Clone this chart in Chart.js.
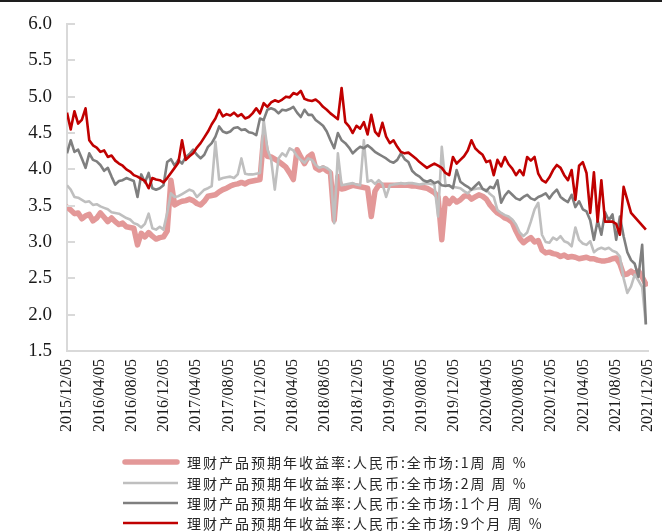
<!DOCTYPE html>
<html>
<head>
<meta charset="utf-8">
<script src="https://cdn.jsdelivr.net/npm/chart.js@4.4.1/dist/chart.umd.min.js"></script>
<style>
  html, body { margin: 0; padding: 0; background: #fff; }
  #frame { width: 662px; height: 532px; box-sizing: border-box; border-top: 2px solid #1e1e1e; }
  canvas { display: block; }
</style>
</head>
<body>
<div id="frame"><canvas id="c" width="662" height="530"></canvas></div>
<script>
// Weekly wealth-product expected annual yields (%), sampled every two weeks from 2015/12/05
const startDate = '2015/12/05';
const stepDays = 14;

const seriesNames = [
  '理财产品预期年收益率:人民币:全市场:1周 周 %',
  '理财产品预期年收益率:人民币:全市场:2周 周 %',
  '理财产品预期年收益率:人民币:全市场:1个月 周 %',
  '理财产品预期年收益率:人民币:全市场:9个月 周 %'
];

const tickLabels = [
  '2015/12/05', '2016/04/05', '2016/08/05', '2016/12/05', '2017/04/05',
  '2017/08/05', '2017/12/05', '2018/04/05', '2018/08/05', '2018/12/05',
  '2019/04/05', '2019/08/05', '2019/12/05', '2020/04/05', '2020/08/05',
  '2020/12/05', '2021/04/05', '2021/08/05', '2021/12/05'
];

const yield1W = [
  3.48, 3.44, 3.39, 3.40, 3.32, 3.36, 3.38, 3.29, 3.33, 3.40,
  3.34, 3.28, 3.33, 3.28, 3.24, 3.26, 3.21, 3.20, 3.19, 2.96,
  3.12, 3.07, 3.13, 3.08, 3.04, 3.06, 3.07, 3.15, 3.85, 3.51,
  3.54, 3.56, 3.57, 3.59, 3.57, 3.53, 3.51, 3.56, 3.63, 3.64,
  3.65, 3.69, 3.72, 3.74, 3.77, 3.79, 3.80, 3.82, 3.80, 3.83,
  3.84, 3.85, 3.86, 4.45, 4.18, 4.17, 4.14, 4.11, 4.07, 4.03,
  3.95, 3.86, 4.27, 4.17, 4.08, 4.17, 4.21, 4.02, 3.99, 4.02,
  3.98, 3.95, 3.30, 3.90, 3.73, 3.74, 3.76, 3.78, 3.77, 3.76,
  3.75, 3.74, 3.35, 3.70, 3.78, 3.78, 3.78, 3.78, 3.78, 3.78,
  3.78, 3.78, 3.78, 3.77, 3.77, 3.76, 3.75, 3.74, 3.71, 3.68,
  3.62, 3.03, 3.60, 3.53, 3.60, 3.55, 3.58, 3.63, 3.64, 3.59,
  3.62, 3.65, 3.63, 3.59, 3.51, 3.45, 3.40, 3.37, 3.33, 3.31,
  3.27, 3.15, 3.05, 2.99, 3.03, 3.06, 3.00, 3.02, 2.89, 2.85,
  2.86, 2.84, 2.83, 2.80, 2.82, 2.79, 2.80, 2.79, 2.77, 2.78,
  2.79, 2.77, 2.77, 2.75, 2.74, 2.74, 2.75, 2.77, 2.78, 2.70,
  2.55, 2.56, 2.60, 2.56, 2.60, 2.52, 2.42
];

const yield2W = [
  3.78, 3.72, 3.62, 3.61, 3.58, 3.55, 3.56, 3.51, 3.52, 3.49,
  3.47, 3.45, 3.41, 3.40, 3.39, 3.36, 3.33, 3.31, 3.26, 3.24,
  3.20, 3.25, 3.39, 3.19, 3.17, 3.21, 3.17, 3.40, 3.67, 3.62,
  3.63, 3.66, 3.69, 3.72, 3.70, 3.62, 3.67, 3.72, 3.74, 3.77,
  4.38, 3.86, 3.88, 3.89, 3.90, 3.88, 3.93, 4.15, 3.94, 3.93,
  3.93, 3.94, 3.95, 4.68, 4.28, 4.14, 3.72, 4.15, 4.22, 4.18,
  4.29, 4.26, 4.18, 4.13, 4.09, 4.15, 4.13, 4.06, 4.02, 4.04,
  4.02, 3.98, 3.26, 4.22, 3.78, 3.79, 3.80, 3.81, 3.79, 3.78,
  4.40, 3.83, 3.85, 3.80, 3.85, 3.80, 3.62, 3.78, 3.79, 3.80,
  3.81, 3.80, 3.81, 3.81, 3.80, 3.79, 3.80, 3.81, 3.80, 3.79,
  3.35, 4.31, 3.79, 3.77, 3.76, 3.75, 3.74, 3.70, 3.67, 3.72,
  3.73, 3.74, 3.73, 3.72, 3.66, 3.62, 3.44, 3.40, 3.37, 3.35,
  3.31, 3.24, 3.13, 3.08, 3.13, 3.28, 3.45, 3.54, 3.10, 3.00,
  2.99, 3.06, 3.03, 3.08, 3.01, 2.99, 2.94, 3.20, 3.03, 2.98,
  2.96, 3.01, 2.86, 2.90, 2.92, 2.90, 2.92, 2.88, 2.86, 2.80,
  2.50, 2.30, 2.39, 2.55, 2.47, 2.38, 1.86
];

const yield1M = [
  4.22, 4.40, 4.24, 4.27, 4.15, 4.02, 4.22, 4.13, 4.11, 4.06,
  3.98, 4.02, 3.90, 3.79, 3.84, 3.85, 3.88, 3.86, 3.84, 3.62,
  3.93, 3.82, 3.95, 3.74, 3.72, 3.74, 3.78, 4.10, 4.14, 4.05,
  4.13, 4.08, 4.17, 4.21, 4.27, 4.20, 4.15, 4.20, 4.31, 4.36,
  4.45, 4.59, 4.52, 4.50, 4.52, 4.57, 4.58, 4.54, 4.55, 4.51,
  4.50, 4.47, 4.70, 4.68, 4.82, 4.84, 4.82, 4.77, 4.82, 4.81,
  4.83, 4.86, 4.78, 4.72, 4.82, 4.75, 4.75, 4.68, 4.64, 4.60,
  4.52, 4.40, 4.29, 4.50, 4.40, 4.36, 4.30, 4.22, 4.27, 4.31,
  4.29, 4.33, 4.29, 4.24, 4.21, 4.18, 4.15, 4.11, 4.09, 4.13,
  4.22, 4.14, 4.10, 3.98, 3.93, 3.90, 3.85, 3.83, 3.85, 3.81,
  3.83, 3.78, 3.77, 3.78, 3.74, 3.99, 3.83, 3.79, 3.76, 3.72,
  3.77, 3.82, 3.73, 3.70, 3.76, 3.74, 3.85, 3.54, 3.64, 3.70,
  3.65, 3.60, 3.58, 3.62, 3.65, 3.60, 3.58, 3.62, 3.64, 3.67,
  3.60, 3.67, 3.72, 3.62, 3.58, 3.55, 3.65, 3.48, 3.56, 3.45,
  3.42, 3.30, 3.03, 3.30, 3.10, 3.41, 3.30, 3.38, 3.03, 3.35,
  3.08, 2.86, 2.75, 2.70, 2.52, 2.96, 1.87
];

const yield9M = [
  4.78, 4.55, 4.80, 4.63, 4.68, 4.84, 4.40, 4.33, 4.30, 4.24,
  4.26, 4.17, 4.19, 4.12, 4.08, 4.05, 4.00, 3.97, 3.92, 3.90,
  3.87, 3.84, 3.74, 3.88, 3.86, 3.85, 3.82, 3.88, 3.95, 4.02,
  4.09, 4.40, 4.13, 4.18, 4.22, 4.30, 4.36, 4.44, 4.52, 4.62,
  4.70, 4.82, 4.73, 4.76, 4.74, 4.78, 4.73, 4.76, 4.70, 4.72,
  4.77, 4.84, 4.77, 4.91, 4.86, 4.92, 4.95, 4.93, 4.96, 5.00,
  4.99, 5.05, 5.03, 5.08, 4.97, 4.95, 4.94, 4.96, 4.92, 4.86,
  4.82, 4.77, 4.73, 4.69, 5.12, 4.65, 4.59, 4.50, 4.60, 4.56,
  4.65, 4.48, 4.75, 4.52, 4.46, 4.64, 4.45, 4.36, 4.40, 4.31,
  4.24, 4.22, 4.23, 4.19, 4.15, 4.10, 4.06, 4.02, 4.05, 4.08,
  4.05, 4.02, 3.95, 3.92, 4.17, 4.08, 4.13, 4.18, 4.26, 4.40,
  4.29, 4.24, 4.20, 4.10, 4.12, 3.92, 4.13, 4.04, 4.17, 4.07,
  4.01, 3.92, 3.99, 3.92, 4.17, 4.12, 4.17, 3.94, 3.85, 3.82,
  3.89, 3.99, 4.06, 4.02, 3.92, 3.85, 3.99, 3.58, 4.05, 4.10,
  3.95, 3.40, 3.96, 3.28, 3.85, 3.28, 3.28, 3.28, 3.25, 3.10,
  3.76, null, 3.40, null, null, null, 3.17
];

// Days elapsed since the first observation
function dayOffset(label) {
  const [y, m, d] = label.split('/').map(Number);
  const [y0, m0, d0] = startDate.split('/').map(Number);
  return Math.round((Date.UTC(y, m - 1, d) - Date.UTC(y0, m0 - 1, d0)) / 86400000);
}
const tickDays = tickLabels.map(dayOffset);
const toPoints = arr => arr.map((v, i) => ({ x: i * stepDays, y: v }));

const styles = [
  { color: 'rgb(227,152,152)', width: 5.5, cap: 'round', order: 4 },
  { color: '#bfbfbf', width: 2.6, cap: 'butt', order: 3 },
  { color: '#7f7f7f', width: 2.6, cap: 'butt', order: 2 },
  { color: '#c00000', width: 2.6, cap: 'butt', order: 1 }
];
const seriesValues = [yield1W, yield2W, yield1M, yield9M];

const datasets = seriesValues.map((vals, k) => ({
  label: seriesNames[k],
  data: toPoints(vals),
  borderColor: styles[k].color,
  backgroundColor: styles[k].color,
  borderWidth: styles[k].width,
  borderCapStyle: styles[k].cap,
  borderJoinStyle: 'round',
  pointRadius: 0,
  tension: 0,
  spanGaps: true,
  order: styles[k].order
}));

const AXIS_COLOR = '#d9d9d9';

// short inward tick marks on the value axis
const innerTicks = {
  id: 'innerTicks',
  afterDraw(chart) {
    const { ctx, chartArea, scales } = chart;
    const y = scales.y;
    ctx.save();
    ctx.strokeStyle = AXIS_COLOR;
    ctx.lineWidth = 2;
    y.ticks.forEach(t => {
      const py = Math.round(y.getPixelForValue(t.value));
      ctx.beginPath();
      ctx.moveTo(chartArea.left, py);
      ctx.lineTo(chartArea.left + 8, py);
      ctx.stroke();
    });
    ctx.restore();
  }
};

// stacked legend under the axis labels
const stackedLegend = {
  id: 'stackedLegend',
  afterDraw(chart) {
    const { ctx } = chart;
    const rows = [460, 481, 501, 521];
    ctx.save();
    chart.data.datasets.forEach((ds, k) => {
      const yRow = rows[k];
      ctx.beginPath();
      ctx.strokeStyle = ds.borderColor;
      ctx.lineWidth = k === 0 ? ds.borderWidth : 2.4;
      ctx.lineCap = ds.borderCapStyle;
      const x0 = ds.borderCapStyle === 'round' ? 125 : 123;
      const x1 = ds.borderCapStyle === 'round' ? 177 : 178;
      ctx.moveTo(x0, yRow);
      ctx.lineTo(x1, yRow);
      ctx.stroke();
      ctx.fillStyle = '#262626';
      ctx.font = "14px 'Noto Sans CJK SC', sans-serif";
      ctx.letterSpacing = '2px';
      ctx.textBaseline = 'middle';
      ctx.textAlign = 'left';
      ctx.fillText(ds.label, 187, yRow + 1);
    });
    ctx.restore();
  }
};

new Chart(document.getElementById('c'), {
  type: 'line',
  data: { datasets },
  options: {
    responsive: false,
    animation: false,
    events: [],
    layout: { padding: { left: 0, right: 14, top: 22, bottom: 0 } },
    plugins: { legend: { display: false }, tooltip: { enabled: false } },
    scales: {
      x: {
        type: 'linear',
        min: 0,
        max: tickDays[tickDays.length - 1],
        afterBuildTicks: s => { s.ticks = tickDays.map(v => ({ value: v })); },
        afterFit: s => { s.height = 181; s.paddingLeft = 0; s.paddingRight = 0; },
        grid: { display: false, drawTicks: false },
        border: { display: true, color: AXIS_COLOR, width: 2 },
        ticks: {
          autoSkip: false,
          minRotation: 90,
          maxRotation: 90,
          padding: 8,
          color: '#1a1a1a',
          font: { family: "'Liberation Serif', 'Times New Roman', serif", size: 16 },
          callback: (v, i) => tickLabels[i]
        }
      },
      y: {
        min: 1.5,
        max: 6.0,
        afterFit: s => { s.width = 67; s.paddingTop = 0; s.paddingBottom = 0; },
        grid: { display: false, drawTicks: false },
        border: { display: true, color: AXIS_COLOR, width: 2 },
        ticks: {
          stepSize: 0.5,
          padding: 15,
          color: '#1a1a1a',
          font: { family: "'Liberation Serif', 'Times New Roman', serif", size: 19 },
          callback: v => Number(v).toFixed(1)
        }
      }
    }
  },
  plugins: [innerTicks, stackedLegend]
});
</script>
</body>
</html>
